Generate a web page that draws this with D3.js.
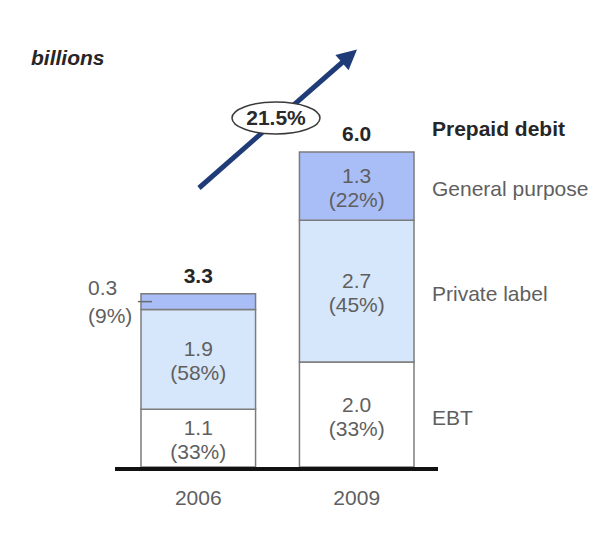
<!DOCTYPE html>
<html>
<head>
<meta charset="utf-8">
<script src="https://cdn.jsdelivr.net/npm/d3@7"></script>
<style>
  html, body { margin: 0; padding: 0; background: #fff; }
  svg { display: block; font-family: "Liberation Sans", Arial, sans-serif; }
</style>
</head>
<body>
<svg id="chart" width="616" height="533"></svg>
<script>
// Prepaid debit volume by segment, in billions
const years = ["2006", "2009"];
const segments = ["EBT", "Private label", "General purpose"];
const ebt = [1.1, 2.0];
const privateLabel = [1.9, 2.7];
const generalPurpose = [0.3, 1.3];
const shares = {
  "EBT": ["33%", "33%"],
  "Private label": ["58%", "45%"],
  "General purpose": ["9%", "22%"]
};
const totals = [3.3, 6.0];
const growthLabel = "21.5%";
const unitLabel = "billions";
const legendTitle = "Prepaid debit";

const segmentValues = {
  "EBT": ebt,
  "Private label": privateLabel,
  "General purpose": generalPurpose
};
const fills = {
  "EBT": "#ffffff",
  "Private label": "#d6e6fb",
  "General purpose": "#a9bdf6"
};

const svg = d3.select("#chart");

const x = d3.scaleBand().domain(years).range([141, 414]).paddingInner(0.277).paddingOuter(0);
const y = d3.scaleLinear().domain([0, 6]).range([467, 152]);

// table of rows for the stack
const rows = years.map((yr, i) => {
  const r = { year: yr };
  segments.forEach(s => { r[s] = segmentValues[s][i]; });
  return r;
});
const stack = d3.stack().keys(segments)(rows);

const labelColor = "#5f5f5f";
const fontSize = 21;

// bars
stack.forEach(layer => {
  const key = layer.key;
  layer.forEach((d, i) => {
    const x0 = x(years[i]);
    const top = y(d[1]);
    const bottom = y(d[0]);
    svg.append("rect")
      .attr("x", x0).attr("y", top)
      .attr("width", x.bandwidth()).attr("height", bottom - top)
      .attr("fill", fills[key])
      .attr("stroke", "#7c7c7c").attr("stroke-width", 1.5);

    const value = segmentValues[key][i];
    const cx = x0 + x.bandwidth() / 2;
    const cy = (top + bottom) / 2;
    if (bottom - top > 40) {
      svg.append("text").attr("x", cx).attr("y", cy - 3)
        .attr("text-anchor", "middle").attr("font-size", fontSize)
        .attr("fill", labelColor).text(value.toFixed(1));
      svg.append("text").attr("x", cx).attr("y", cy + 21)
        .attr("text-anchor", "middle").attr("font-size", fontSize)
        .attr("fill", labelColor).text("(" + shares[key][i] + ")");
    } else {
      // thin segment: label to the left with a short leader
      svg.append("line")
        .attr("x1", x0 - 3).attr("x2", x0 + 11)
        .attr("y1", cy).attr("y2", cy)
        .attr("stroke", "#6a6a6a").attr("stroke-width", 1.5);
      svg.append("text").attr("x", x0 - 53).attr("y", cy - 7)
        .attr("font-size", fontSize)
        .attr("fill", labelColor).text(value.toFixed(1));
      svg.append("text").attr("x", x0 - 53).attr("y", cy + 21)
        .attr("font-size", fontSize)
        .attr("fill", labelColor).text("(" + shares[key][i] + ")");
    }
  });
});

// totals above bars
years.forEach((yr, i) => {
  svg.append("text")
    .attr("x", x(yr) + x.bandwidth() / 2).attr("y", y(totals[i]) - 11)
    .attr("text-anchor", "middle").attr("font-size", fontSize)
    .attr("font-weight", "bold").attr("fill", "#262626")
    .text(totals[i].toFixed(1));
});

// baseline
svg.append("line")
  .attr("x1", 115).attr("x2", 438)
  .attr("y1", y(0) + 2).attr("y2", y(0) + 2)
  .attr("stroke", "#111").attr("stroke-width", 4);

// year axis
const xAxis = svg.append("g")
  .attr("transform", `translate(0,${y(0) + 4})`)
  .call(d3.axisBottom(x).tickSize(0).tickPadding(19));
xAxis.select(".domain").remove();
xAxis.selectAll("text")
  .attr("font-size", fontSize)
  .attr("font-family", "Liberation Sans, Arial, sans-serif")
  .attr("fill", labelColor);

// segment legend on the right
const legendX = 432;
svg.append("text").attr("x", legendX).attr("y", 136)
  .attr("font-size", fontSize).attr("font-weight", "bold").attr("fill", "#262626")
  .text(legendTitle);
const lastIdx = years.length - 1;
stack.forEach(layer => {
  const d = layer[lastIdx];
  const cy = (y(d[0]) + y(d[1])) / 2;
  svg.append("text").attr("x", legendX).attr("y", cy + 10)
    .attr("font-size", fontSize).attr("fill", labelColor)
    .text(layer.key);
});

// unit label
svg.append("text").attr("x", 31).attr("y", 65)
  .attr("font-size", fontSize).attr("font-weight", "bold")
  .attr("font-style", "italic").attr("fill", "#262626")
  .text(unitLabel);

// growth arrow
const arrowColor = "#1f3c78";
svg.append("defs").append("marker")
  .attr("id", "head").attr("viewBox", "0 0 10 10")
  .attr("refX", 2).attr("refY", 5)
  .attr("markerWidth", 4.2).attr("markerHeight", 4)
  .attr("orient", "auto")
  .append("path").attr("d", "M0,0 L10,5 L0,10 Z").attr("fill", arrowColor);
svg.append("line")
  .attr("x1", 199).attr("y1", 188).attr("x2", 345).attr("y2", 60)
  .attr("stroke", arrowColor).attr("stroke-width", 5)
  .attr("marker-end", "url(#head)");

svg.append("ellipse")
  .attr("cx", 276).attr("cy", 118).attr("rx", 44).attr("ry", 16)
  .attr("fill", "#fff").attr("stroke", "#3a3a3a").attr("stroke-width", 1.5);
svg.append("text").attr("x", 276).attr("y", 125)
  .attr("text-anchor", "middle").attr("font-size", fontSize)
  .attr("font-weight", "bold").attr("fill", "#2a2a2a")
  .text(growthLabel);
</script>
</body>
</html>
